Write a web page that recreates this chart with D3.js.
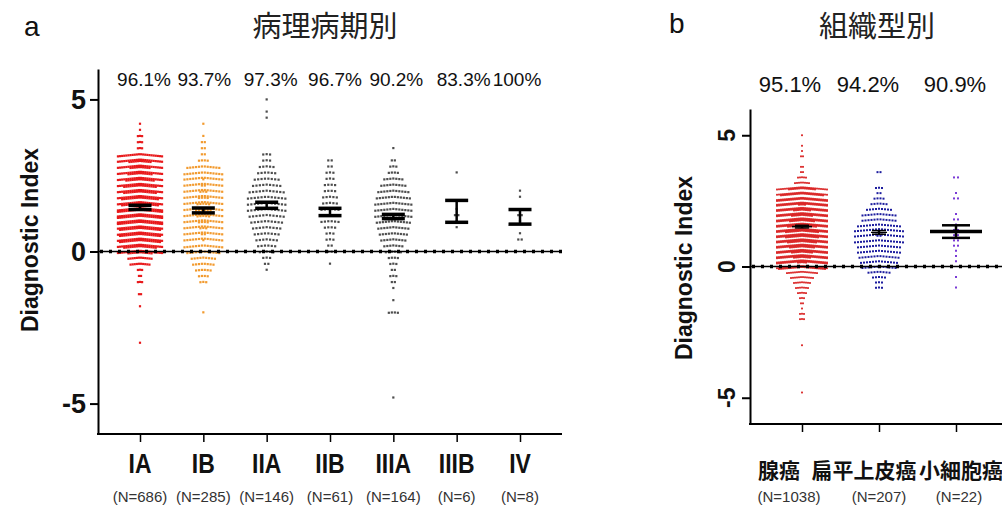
<!DOCTYPE html>
<html>
<head>
<meta charset="utf-8">
<script src="https://cdn.jsdelivr.net/npm/d3@7"></script>
<style>
  body { margin: 0; background: #fff; }
  svg { display: block; }
</style>
</head>
<body>
<svg id="chart" width="1002" height="508"></svg>
<script>
// bin width (Diagnostic Index units) used for all count arrays below
var binStep = 0.2;

// ---- panel a: by pathological stage
var stageNames = ["IA", "IB", "IIA", "IIB", "IIIA", "IIIB", "IV"];
var stageN = ["(N=686)", "(N=285)", "(N=146)", "(N=61)", "(N=164)", "(N=6)", "(N=8)"];
var stagePct = ["96.1%", "93.7%", "97.3%", "96.7%", "90.2%", "83.3%", "100%"];
// lowest bin value of each group, then number of points per 0.2 bin going up
var stageStart = [-3.0, -2.0, -0.6, -0.4, -4.8, 0.8, 0.4];
var stageCounts = [
  [1, 0, 0, 0, 0, 0, 1, 0, 2, 0, 3, 2, 3, 10, 12, 34, 38, 42, 42, 42, 44, 44, 44, 40, 40, 38, 38, 36, 34, 32, 33, 22, 3, 3, 3, 1, 1],
  [1, 0, 0, 0, 0, 3, 4, 6, 8, 9, 12, 14, 15, 16, 17, 18, 19, 20, 19, 18, 17, 16, 15, 14, 12, 4, 2, 2, 2, 1, 0, 1],
  [1, 2, 3, 5, 6, 7, 8, 9, 10, 11, 12, 12, 12, 11, 9, 8, 6, 5, 3, 3, 0, 0, 0, 0, 0, 1, 1, 0, 1],
  [1, 0, 2, 2, 3, 3, 4, 6, 6, 6, 5, 5, 4, 4, 3, 3, 2, 2],
  [1, 0, 0, 0, 0, 0, 0, 0, 0, 0, 0, 0, 0, 0, 4, 0, 1, 0, 1, 2, 3, 2, 3, 4, 6, 7, 9, 10, 11, 12, 13, 13, 13, 12, 11, 9, 7, 4, 3, 2, 0, 1],
  [1, 1, 2, 1, 0, 0, 0, 0, 0, 1],
  [2, 1, 0, 1, 2, 0, 0, 1, 1]
];
var stageMean = [1.45, 1.35, 1.52, 1.30, 1.15, 1.32, 1.14];
var stageSem = [0.07, 0.08, 0.10, 0.12, 0.07, 0.36, 0.24];

// ---- panel b: by histological type
var typeNames = ["腺癌", "扁平上皮癌", "小細胞癌"];
var typeN = ["(N=1038)", "(N=207)", "(N=22)"];
var typePct = ["95.1%", "94.2%", "90.9%"];
var typeStart = [-4.8, -0.8, -0.8];
var typeCounts = [
  [1, 0, 0, 0, 0, 0, 0, 0, 0, 1, 0, 0, 0, 0, 3, 3, 1, 2, 3, 5, 7, 9, 12, 16, 50, 57, 61, 63, 65, 67, 69, 69, 67, 65, 63, 61, 56, 52, 48, 40, 8, 5, 2, 2, 0, 2, 1, 1, 0, 1],
  [3, 3, 5, 8, 12, 13, 14, 15, 15, 17, 19, 18, 15, 12, 12, 9, 6, 4, 2, 3, 0, 0, 2],
  [1, 0, 1, 0, 0, 1, 1, 1, 2, 2, 2, 2, 1, 2, 1, 0, 0, 2, 1, 0, 0, 2]
];
var typeMean = [1.52, 1.30, 1.33];
var typeSem = [0.05, 0.07, 0.24];

var latin = "'Liberation Sans', Arial, sans-serif";
var cjk = "'Noto Sans CJK JP', 'Noto Sans CJK SC', sans-serif";

var svg = d3.select("#chart");

function binsOf(start, counts) {
  return counts.map(function (c, i) {
    return { value: +(start + i * binStep).toFixed(2), count: c };
  });
}

// lay points of one bin side by side, wrapping into sub rows (Prism-like scatter)
function swarm(bins, o) {
  var pts = [];
  var perRow = Math.floor(o.maxW / o.dx) + 1;
  bins.forEach(function (b) {
    var rows = Math.ceil(b.count / perRow);
    for (var k = 0; k < b.count; k++) {
      var row = Math.floor(k / perRow);
      var inRow = Math.min(perRow, b.count - row * perRow);
      var j = k % perRow;
      var off = (j - (inRow - 1) / 2) * o.dx;
      pts.push({
        value: b.value,
        ox: off,
        oy: (row - (rows - 1) / 2) * o.rowGap + Math.abs(off) * o.slope
      });
    }
  });
  return pts;
}

function drawPanel(p) {
  var g = svg.append("g");
  var y = d3.scaleLinear().domain([-6, 6]).range([p.yBot, p.yTop]);
  var x = d3.scalePoint().domain(p.names).range(p.xr);

  // dots
  p.names.forEach(function (name, i) {
    var pts = swarm(binsOf(p.starts[i], p.counts[i]), {
      maxW: p.maxW[i], dx: p.dx[i], rowGap: p.rowGap[i], slope: p.slope
    });
    g.append("g").selectAll("rect")
      .data(pts)
      .enter()
      .append("rect")
      .attr("x", function (d) { return x(name) + d.ox - p.dot[i] / 2; })
      .attr("y", function (d) { return y(d.value) + d.oy - p.dot[i] / 2; })
      .attr("width", p.dot[i])
      .attr("height", p.dot[i])
      .attr("fill", p.colors[i]);
  });

  // dotted zero line
  g.append("line")
    .attr("x1", p.x0).attr("x2", p.x1)
    .attr("y1", y(0)).attr("y2", y(0))
    .attr("stroke", "#000").attr("stroke-width", 1.6);
  g.append("line")
    .attr("x1", p.x0 + 2).attr("x2", p.x1)
    .attr("y1", y(0)).attr("y2", y(0))
    .attr("stroke", "#000").attr("stroke-width", 3.4)
    .attr("stroke-dasharray", "3,6");

  // error bars (mean +/- SEM)
  p.names.forEach(function (name, i) {
    var cx = x(name);
    var lo = y(p.means[i] - p.sems[i]);
    var hi = y(p.means[i] + p.sems[i]);
    g.append("line")
      .attr("x1", cx).attr("x2", cx).attr("y1", lo).attr("y2", hi)
      .attr("stroke", "#000").attr("stroke-width", 2.5);
    [lo, hi].forEach(function (yy) {
      g.append("line")
        .attr("x1", cx - p.capW[i] / 2).attr("x2", cx + p.capW[i] / 2)
        .attr("y1", yy).attr("y2", yy)
        .attr("stroke", "#000").attr("stroke-width", p.capStroke[i]);
    });
    if (p.meanW) {
      g.append("line")
        .attr("x1", cx - p.meanW[i] / 2).attr("x2", cx + p.meanW[i] / 2)
        .attr("y1", y(p.means[i])).attr("y2", y(p.means[i]))
        .attr("stroke", "#000").attr("stroke-width", p.meanStroke[i]);
    }
  });

  // axes
  var yAxis = d3.axisLeft(y).tickValues([-5, 0, 5]).tickSize(8).tickSizeOuter(0).tickFormat("");
  var ya = g.append("g").attr("transform", "translate(" + p.x0 + ",0)").call(yAxis);
  ya.selectAll("path, line").attr("stroke", "#000").attr("stroke-width", 2);

  var xAxis = d3.axisBottom(x).tickSize(8).tickSizeOuter(0).tickFormat("");
  var xa = g.append("g").attr("transform", "translate(0," + p.yBot + ")").call(xAxis);
  xa.select(".domain").remove();
  xa.selectAll("line").attr("stroke", "#000").attr("stroke-width", 1.5);
  g.append("line")
    .attr("x1", p.x0 - 1).attr("x2", p.x1)
    .attr("y1", p.yBot).attr("y2", p.yBot)
    .attr("stroke", "#000").attr("stroke-width", 2);

  // y tick labels
  [-5, 0, 5].forEach(function (v) {
    var t = g.append("text")
      .text(String(v))
      .attr("font-family", latin)
      .attr("font-weight", "bold")
      .attr("font-size", p.tickFont)
      .attr("fill", "#111");
    if (p.rotTicks) {
      t.attr("text-anchor", "middle")
        .attr("transform", "translate(" + p.tickX + "," + y(v) + ") rotate(-90)");
    } else {
      t.attr("text-anchor", "end")
        .attr("x", p.tickX)
        .attr("y", y(v) + p.tickFont * 0.36);
    }
  });

  // y title
  g.append("text")
    .text("Diagnostic Index")
    .attr("font-family", latin)
    .attr("font-weight", "bold")
    .attr("font-size", 23)
    .attr("fill", "#111")
    .attr("text-anchor", "middle")
    .attr("transform", "translate(" + p.titleX + "," + p.titleY + ") rotate(-90)");

  // category labels, N and percentages
  p.names.forEach(function (name, i) {
    var cx = x(name);
    g.append("text")
      .text(name)
      .attr("font-family", p.catFamily)
      .attr("font-weight", "bold")
      .attr("font-size", p.catFont)
      .attr("fill", "#111")
      .attr("text-anchor", "middle")
      .attr("transform", "translate(" + (cx + p.catNudge[i]) + "," + p.catY + ") scale(" + p.catScale + ",1)");
    g.append("text")
      .text(p.n[i])
      .attr("x", cx + p.nNudge[i])
      .attr("y", 502)
      .attr("font-family", latin)
      .attr("font-size", 15)
      .attr("fill", "#333")
      .attr("text-anchor", "middle");
    g.append("text")
      .text(p.pct[i])
      .attr("x", cx + p.pctNudge[i])
      .attr("y", p.pctY)
      .attr("font-family", latin)
      .attr("font-size", p.pctFont)
      .attr("fill", "#111")
      .attr("text-anchor", "middle");
  });

  g.append("text")
    .text(p.letter)
    .attr("x", p.letterX).attr("y", p.letterY)
    .attr("font-family", latin)
    .attr("font-size", 28)
    .attr("fill", "#111");
  g.append("text")
    .text(p.title)
    .attr("x", p.headX).attr("y", 37)
    .attr("font-family", cjk)
    .attr("font-size", 29)
    .attr("fill", "#222")
    .attr("text-anchor", "middle");
}

drawPanel({
  names: stageNames, n: stageN, pct: stagePct,
  starts: stageStart, counts: stageCounts, means: stageMean, sems: stageSem,
  colors: ["#e8191b", "#f29a2e", "#4d4d4d", "#4d4d4d", "#4d4d4d", "#4d4d4d", "#4d4d4d"],
  dx: [2.1, 2.9, 3.4, 3.4, 3.0, 3.4, 3.4],
  maxW: [46, 40, 40, 32, 42, 20, 20],
  dot: [2.2, 2.2, 2.2, 2.2, 2.2, 2.2, 2.2],
  rowGap: [1.4, 1.6, 1.6, 1.6, 1.6, 1.6, 1.6], slope: 0.1,
  x0: 98, x1: 562, xr: [140, 520], yTop: 69, yBot: 434,
  capW: [23, 23, 23, 23, 23, 23, 23], capStroke: [3.5, 3.5, 3.5, 3.5, 3.5, 3.5, 3.5],
  tickFont: 27, tickX: 86, rotTicks: false,
  titleX: 38, titleY: 240,
  catFamily: latin, catFont: 27, catScale: 0.85, catY: 473,
  catNudge: [0, 0, 0, 0, 0, 0, 0],
  nNudge: [0, 0, 0, 0, 0, 0, 0],
  pctNudge: [4, 1, 4, 5, 3, 7, -3], pctY: 86, pctFont: 19,
  letter: "a", letterX: 24, letterY: 36,
  title: "病理病期別", headX: 325
});

drawPanel({
  names: typeNames, n: typeN, pct: typePct,
  starts: typeStart, counts: typeCounts, means: typeMean, sems: typeSem,
  colors: ["#d91f1f", "#1c1c9e", "#7a3bd6"],
  dx: [2.0, 3.0, 4.0],
  maxW: [50, 50, 16],
  dot: [1.8, 2.0, 2.0],
  rowGap: [1.0, 1.3, 1.3], slope: 0.09,
  x0: 750, x1: 1002, xr: [802, 956], yTop: 109, yBot: 424,
  capW: [14, 14, 28], capStroke: [1.5, 1.5, 2.5],
  meanW: [20, 16, 52], meanStroke: [1.6, 1.2, 3.5],
  tickFont: 23, tickX: 735, rotTicks: true,
  titleX: 692, titleY: 268,
  catFamily: cjk, catFont: 21, catScale: 1, catY: 478,
  catNudge: [-23, -15, 5],
  nNudge: [-13, 0, 3],
  pctNudge: [-12, -11, -1], pctY: 92, pctFont: 22,
  letter: "b", letterX: 669, letterY: 33,
  title: "組織型別", headX: 877
});
</script>
</body>
</html>
